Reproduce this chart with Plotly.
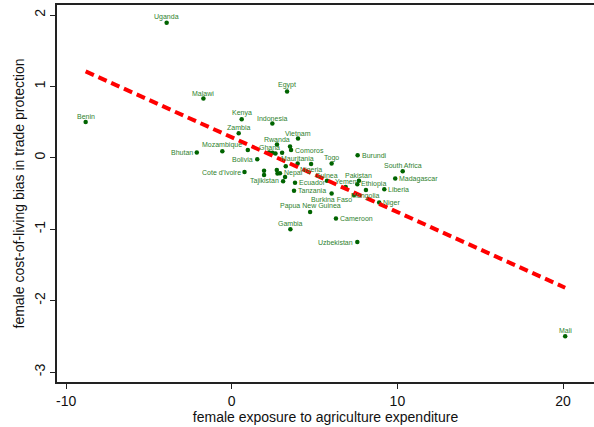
import plotly.graph_objects as go

# ---------------- data ----------------
countries = [
    "Uganda", "Benin", "Malawi", "Egypt", "Kenya", "Indonesia", "Zambia", "Vietnam",
    "Rwanda", "Mozambique", "Bhutan", "Ghana", "Comoros", "Bolivia", "Mauritania",
    "Togo", "Burundi", "South Africa", "Madagascar", "Cote d'Ivoire", "Nepal",
    "Nigeria", "Guinea", "Tajikistan", "Ecuador", "Tanzania", "Pakistan", "Yemen",
    "Ethiopia", "Liberia", "Mongolia", "Burkina Faso", "Niger", "Papua New Guinea",
    "Cameroon", "Gambia", "Uzbekistan", "Mali",
    "", "", "", "", "", "", "", "", "", "", "", "",
]
exposure = [
    -3.93, -8.82, -1.71, 3.34, 0.60, 2.45, 0.42, 4.00,
    2.73, -0.57, -2.11, 2.25, 3.58, 1.54, 3.98,
    6.03, 7.60, 10.32, 9.87, 0.77, 2.91,
    4.79, 5.75, 3.10, 3.82, 3.76, 7.68, 6.88,
    7.58, 9.21, 8.10, 6.03, 8.90, 4.73,
    6.29, 3.54, 7.58, 20.13,
    0.97, 2.46, 2.64, 3.04, 3.52, 1.95, 1.95, 2.72, 2.76, 3.22, 3.26, 7.38,
]
bias = [
    1.89, 0.50, 0.83, 0.93, 0.54, 0.48, 0.345, 0.27,
    0.186, 0.092, 0.074, 0.074, 0.109, -0.02, -0.08,
    -0.08, 0.036, -0.19, -0.29, -0.20, -0.216,
    -0.087, -0.32, -0.33, -0.35, -0.46, -0.32, -0.41,
    -0.37, -0.44, -0.45, -0.50, -0.626, -0.76,
    -0.85, -1.00, -1.18, -2.50,
    0.11, 0.07, 0.06, 0.07, 0.16, -0.18, -0.24, -0.17, -0.22, -0.27, -0.12, -0.52,
]
fit_x = [-8.82, 20.13]
fit_y = [1.21, -1.82]

x_ticks = [-10, 0, 10, 20]
y_ticks = [-3, -2, -1, 0, 1, 2]

# ---------------- styling ----------------
label_side = {
    "Bhutan": "left", "Bolivia": "left", "Cote d'Ivoire": "left",
    "Tajikistan": "left", "Uzbekistan": "left",
    "Comoros": "right", "Burundi": "right", "Madagascar": "right",
    "Nepal": "right", "Ecuador": "right", "Tanzania": "right",
    "Ethiopia": "right", "Liberia": "right", "Niger": "right",
    "Cameroon": "right",
    "Nigeria": "bottom", "Mongolia": "bottom", "Burkina Faso": "bottom",
}
side_style = {
    "top": dict(xanchor="center", yanchor="bottom", xshift=0, yshift=1),
    "bottom": dict(xanchor="center", yanchor="top", xshift=0, yshift=-1),
    "left": dict(xanchor="right", yanchor="middle", xshift=-3, yshift=0),
    "right": dict(xanchor="left", yanchor="middle", xshift=3, yshift=0),
}

FONT = "Liberation Sans, Arial, sans-serif"
DOT = "#006400"
LABEL = "#2f7f2f"

fig = go.Figure()
fig.add_trace(go.Scatter(
    x=exposure, y=bias, mode="markers", text=countries,
    marker=dict(size=4.5, color=DOT),
    showlegend=False, hoverinfo="text+x+y",
))

annotations = []
for name, xv, yv in zip(countries, exposure, bias):
    if not name:
        continue
    st = side_style[label_side.get(name, "top")]
    annotations.append(dict(
        x=xv, y=yv, xref="x", yref="y", text=name, showarrow=False,
        font=dict(family=FONT, size=7, color=LABEL),
        borderpad=0, **st,
    ))

fig.add_trace(go.Scatter(
    x=fit_x, y=fit_y, mode="lines",
    line=dict(color="#ff0000", width=4, dash="9px,5px"),
    showlegend=False, hoverinfo="skip",
))

fig.update_layout(
    width=594, height=427,
    margin=dict(l=57, r=0, t=5, b=45),
    paper_bgcolor="white", plot_bgcolor="white",
    font=dict(family=FONT, size=14, color="#111"),
    annotations=annotations,
)
fig.update_xaxes(
    range=[-10.55, 21.87], tickvals=x_ticks, ticktext=[str(v) for v in x_ticks],
    showgrid=False, zeroline=False,
    showline=True, linecolor="#222", linewidth=1.5, mirror=True,
    ticks="outside", ticklen=5, tickcolor="#222", tickwidth=1,
    tickfont=dict(size=14),
    title=dict(text="female exposure to agriculture expenditure", font=dict(size=14), standoff=0),
)
fig.update_yaxes(
    range=[-3.14, 2.14], tickvals=y_ticks, ticktext=[str(v) for v in y_ticks],
    showgrid=False, zeroline=False,
    showline=True, linecolor="#222", linewidth=1.5, mirror=False,
    ticks="outside", ticklen=5, tickcolor="#222", tickwidth=1,
    tickangle=-90, tickfont=dict(size=14),
    title=dict(text="female cost-of-living bias in trade protection", font=dict(size=14), standoff=4),
)

fig.write_html("out.html")
